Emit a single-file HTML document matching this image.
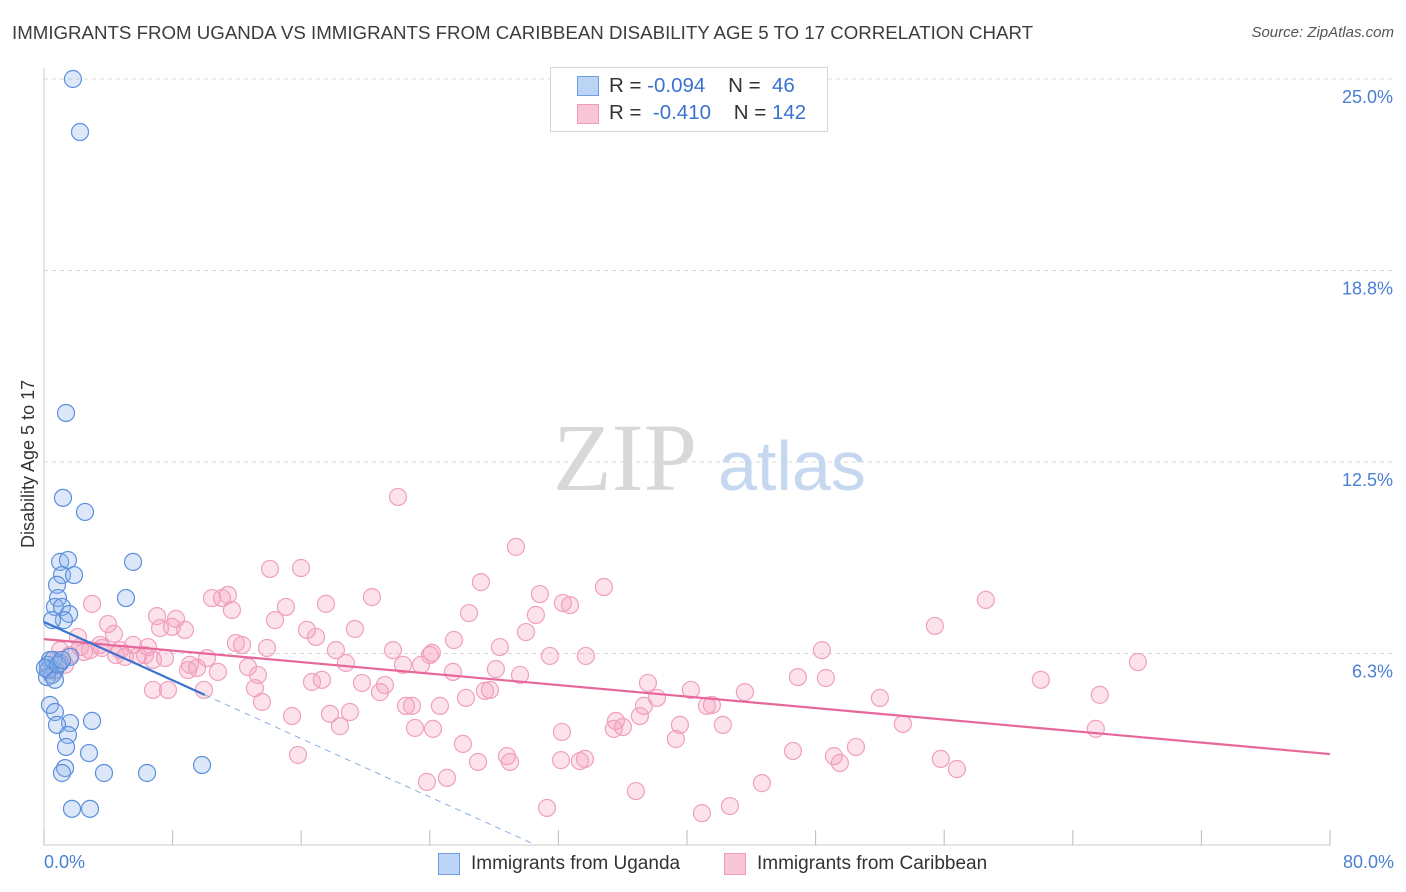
<!DOCTYPE html>
<html><head><meta charset="utf-8"><style>
body{margin:0;background:#fff;font-family:"Liberation Sans",sans-serif;}
#wrap{position:relative;width:1406px;height:892px;overflow:hidden;}
.t{position:absolute;white-space:nowrap;}
</style></head><body>
<div id="wrap">
<div class="t" style="left:12px;top:22px;font-size:18.7px;color:#3c3c3c;">IMMIGRANTS FROM UGANDA VS IMMIGRANTS FROM CARIBBEAN DISABILITY AGE 5 TO 17 CORRELATION CHART</div>
<div class="t" style="right:12px;top:24px;font-size:15px;color:#555;font-style:italic;">Source: ZipAtlas.com</div>
<svg id="svg" width="1406" height="892" style="position:absolute;left:0;top:0"></svg>
</div>
<script>
const yTicks=[25.0,18.8,12.5,6.3];
const yTickVals=[25,18.75,12.5,6.25];
const ugX=[1.80,2.24,1.37,1.18,2.55,1.00,1.49,1.12,1.87,0.81,5.54,5.10,0.87,0.68,1.12,1.56,1.24,0.50,0.37,0.25,0.68,1.00,1.62,0.19,0.50,0.37,0.68,2.99,1.62,0.81,1.49,1.37,2.80,1.31,1.12,3.73,6.41,9.83,1.74,2.86,0.25,0.68,0.56,0.06,0.87,1.12];
const ugY=[25.0,23.27,14.10,11.33,10.87,9.24,9.30,8.81,8.81,8.49,9.24,8.06,8.06,7.77,7.77,7.54,7.34,7.34,6.04,5.88,5.71,5.94,6.14,5.48,5.55,4.57,4.34,4.05,3.98,3.92,3.59,3.20,3.00,2.51,2.35,2.35,2.35,2.61,1.18,1.18,5.71,5.39,6.04,5.78,5.88,6.04];
const caX=[22.02,29.36,14.06,15.99,27.18,34.83,11.44,10.45,11.07,20.40,30.85,32.28,32.72,2.99,7.03,11.69,15.05,17.54,26.44,30.60,8.21,58.59,3.98,14.37,7.22,8.77,7.96,16.36,19.34,29.98,55.42,4.35,2.11,3.48,4.73,5.54,6.47,11.94,12.32,13.87,16.92,25.50,28.36,21.71,24.13,18.16,18.78,24.01,31.47,33.71,48.39,5.85,6.78,7.53,9.08,10.14,12.69,13.31,8.96,9.52,10.82,22.33,23.45,25.44,28.11,29.61,68.05,37.57,46.90,48.64,40.24,43.60,62.01,65.68,52.00,6.78,7.71,9.95,13.12,16.67,17.29,19.78,21.21,20.90,26.25,27.43,27.74,38.13,22.52,22.89,24.63,41.24,41.55,37.32,13.56,15.43,17.79,19.03,37.07,35.58,39.56,42.23,53.43,65.43,18.41,23.08,24.20,36.01,35.45,32.22,39.31,26.06,50.51,15.80,28.80,28.99,32.16,33.34,33.65,46.59,49.14,49.51,55.79,56.79,27.00,25.07,23.82,44.66,36.82,31.29,42.67,40.93,0.37,1.31,1.00,2.49,3.61,4.48,5.04,6.28,0.81,1.62,0.68,2.24,2.86];
const caY=[11.36,9.73,9.01,9.04,8.58,8.42,8.16,8.06,8.06,8.09,8.19,7.90,7.83,7.87,7.47,7.67,7.77,7.87,7.57,7.51,7.38,8.00,7.21,7.34,7.08,7.02,7.12,7.02,7.05,6.95,7.15,6.89,6.79,6.53,6.36,6.53,6.46,6.59,6.53,6.43,6.79,6.69,6.46,6.36,6.27,6.36,5.94,6.20,6.17,6.17,6.36,6.17,6.04,6.10,5.88,6.10,5.81,5.55,5.71,5.78,5.65,5.88,5.88,5.65,5.74,5.55,5.97,5.29,5.48,5.45,5.06,4.99,5.39,4.90,4.80,5.06,5.06,5.06,5.12,5.32,5.39,5.29,5.22,4.99,4.80,5.03,5.06,4.80,4.54,4.54,4.54,4.54,4.57,4.54,4.67,4.21,4.28,4.34,4.21,4.05,3.92,3.92,3.95,3.79,3.88,3.82,3.79,3.85,3.79,3.69,3.46,3.30,3.20,2.94,2.90,2.71,2.77,2.74,2.81,3.07,2.90,2.68,2.81,2.48,2.71,2.19,2.06,2.02,1.76,1.21,1.27,1.04,5.71,5.88,6.36,6.30,6.43,6.20,6.14,6.20,6.04,6.20,5.65,6.46,6.36];
const ugTrend=[7.28,-0.238];
const caTrend=[6.72,-0.0469];
const X0=44,X1=1330,Y0=845;
const xs=v=>X0+(X1-X0)*v/80;
const ys=v=>Y0-v*30.64;
const svg=document.getElementById('svg');
const NS='http://www.w3.org/2000/svg';
function mk(tag,attrs,parent){const e=document.createElementNS(NS,tag);for(const k in attrs)e.setAttribute(k,attrs[k]);(parent||svg).appendChild(e);return e;}
yTickVals.forEach((v,i)=>{
 const g=mk('line',{x1:44,x2:1393,y1:ys(v),y2:ys(v),stroke:'#d8d8d8','stroke-dasharray':'4,4'});
 
 
 const t=mk('text',{x:1393,y:ys(v)+24,'text-anchor':'end','font-size':18,fill:'#4a7fd4','font-family':'Liberation Sans, sans-serif'});
 t.textContent=yTicks[i].toFixed(1)+'%';
 
 
});
const ax=mk('line',{x1:44,x2:44,y1:68,y2:845,stroke:'#ccc'});


const bx=mk('line',{x1:44,x2:1330,y1:845,y2:845,stroke:'#ccc'});


for(let v=0;v<=80;v+=8){
 const tk=mk('line',{x1:xs(v),x2:xs(v),y1:830,y2:845,stroke:'#bbb'});
 
 
}
const wm=mk('text',{x:553,y:490,'font-size':96,fill:'#d8d8d8','font-family':'Liberation Serif, serif'});
wm.textContent='ZIP';


const wm2=mk('text',{x:718,y:490,'font-size':70,fill:'#c5d8f0','font-family':'Liberation Sans, sans-serif'});
wm2.textContent='atlas';


caX.forEach((x,i)=>{
 const c=mk('circle',{cx:xs(x),cy:ys(caY[i]),r:8.5,fill:'rgba(244,160,190,0.3)',stroke:'#f0a0bd','stroke-width':1.2});
 
 
});
ugX.forEach((x,i)=>{
 const c=mk('circle',{cx:xs(x),cy:ys(ugY[i]),r:8.5,fill:'rgba(140,180,235,0.3)',stroke:'#5b8fdc','stroke-width':1.2});
 
 
});
const tc=mk('line',{x1:xs(0),y1:ys(caTrend[0]),x2:xs(80),y2:ys(caTrend[0]+caTrend[1]*80),stroke:'#e8679a','stroke-width':2.2});


const ue=Math.min(80,-ugTrend[0]/ugTrend[1]);
const tu=mk('line',{x1:xs(0),y1:ys(ugTrend[0]),x2:xs(10),y2:ys(ugTrend[0]+ugTrend[1]*10),stroke:'#3a72d0','stroke-width':2.2});


const td=mk('line',{x1:xs(10),y1:ys(ugTrend[0]+ugTrend[1]*10),x2:xs(ue),y2:ys(ugTrend[0]+ugTrend[1]*ue),stroke:'#8aaee0','stroke-width':1,'stroke-dasharray':'6,5'});


</script>
<div class="t" style="left:18px;top:548px;transform:rotate(-90deg);transform-origin:0 0;font-size:18px;color:#333;">Disability Age 5 to 17</div>
<div class="t" style="left:44px;top:852px;font-size:18px;color:#4a7fd4;">0.0%</div>
<div class="t" style="right:12px;top:852px;font-size:18px;color:#4a7fd4;">80.0%</div>
<div style="position:absolute;left:550px;top:67px;width:276px;height:63px;border:1px solid #d5d5d5;background:#fff;font-size:20.5px;">
 <div style="position:absolute;left:26px;top:8px;width:20px;height:18px;background:#bcd4f5;border:1px solid #6f9ee0;"></div>
 <div class="t" style="left:58px;top:6px;color:#333">R = <span style="color:#3a72d0">-0.094</span>&nbsp;&nbsp;&nbsp; N = <span style="color:#3a72d0">&nbsp;46</span></div>
 <div style="position:absolute;left:26px;top:36px;width:20px;height:18px;background:#f8c6d6;border:1px solid #ef9cba;"></div>
 <div class="t" style="left:58px;top:33px;color:#333">R = &nbsp;<span style="color:#3a72d0">-0.410</span>&nbsp;&nbsp;&nbsp; N = <span style="color:#3a72d0">142</span></div>
</div>
<div style="position:absolute;left:438px;top:853px;width:20px;height:20px;background:#bcd4f5;border:1px solid #6f9ee0;"></div>
<div class="t" style="left:471px;top:853px;font-size:19px;color:#333;">Immigrants from Uganda</div>
<div style="position:absolute;left:724px;top:853px;width:20px;height:20px;background:#f8c6d6;border:1px solid #ef9cba;"></div>
<div class="t" style="left:757px;top:853px;font-size:19px;color:#333;">Immigrants from Caribbean</div>
</body></html>
